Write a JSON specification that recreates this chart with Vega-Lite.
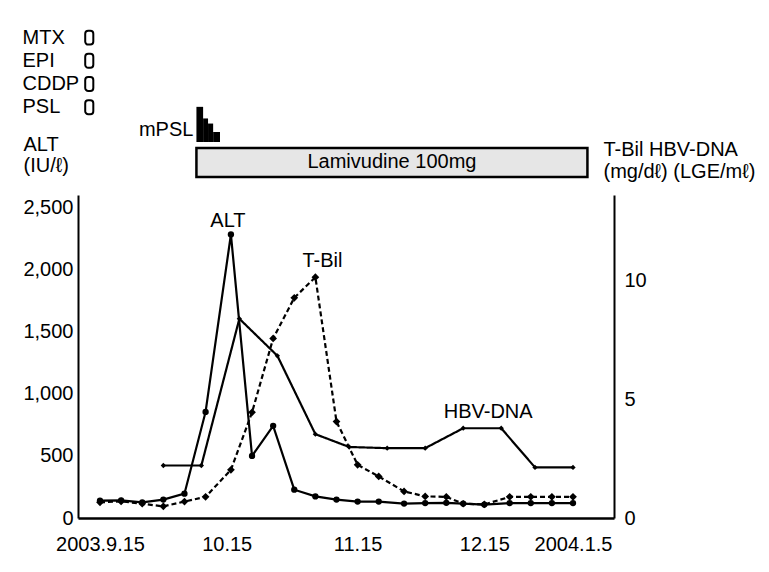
{
  "$schema": "https://vega.github.io/schema/vega-lite/v6.json",
  "background": "white",
  "padding": {"left": 22, "top": 26, "right": 5, "bottom": 5},
  "datasets": {
    "alt": [
      {"date": "2003-09-15T00:00", "alt": 140},
      {"date": "2003-09-20T00:00", "alt": 142},
      {"date": "2003-09-25T00:00", "alt": 126},
      {"date": "2003-09-30T00:00", "alt": 148},
      {"date": "2003-10-05T00:00", "alt": 196},
      {"date": "2003-10-10T00:00", "alt": 854},
      {"date": "2003-10-16T00:00", "alt": 2282, "label": "ALT"},
      {"date": "2003-10-21T00:00", "alt": 500},
      {"date": "2003-10-26T00:00", "alt": 742},
      {"date": "2003-10-31T00:00", "alt": 228},
      {"date": "2003-11-05T00:00", "alt": 174},
      {"date": "2003-11-10T00:00", "alt": 148},
      {"date": "2003-11-15T00:00", "alt": 132},
      {"date": "2003-11-20T00:00", "alt": 132},
      {"date": "2003-11-26T00:00", "alt": 116},
      {"date": "2003-12-01T00:00", "alt": 120},
      {"date": "2003-12-06T00:00", "alt": 122},
      {"date": "2003-12-10T00:00", "alt": 116},
      {"date": "2003-12-15T00:00", "alt": 108},
      {"date": "2003-12-21T00:00", "alt": 120},
      {"date": "2003-12-26T00:00", "alt": 120},
      {"date": "2003-12-31T00:00", "alt": 120},
      {"date": "2004-01-05T00:00", "alt": 120}
    ],
    "right": [
      {"date": "2003-09-15T00:00", "series": "T-Bil", "value": 0.66},
      {"date": "2003-09-20T00:00", "series": "T-Bil", "value": 0.7},
      {"date": "2003-09-25T00:00", "series": "T-Bil", "value": 0.6},
      {"date": "2003-09-30T00:00", "series": "T-Bil", "value": 0.49},
      {"date": "2003-10-05T00:00", "series": "T-Bil", "value": 0.69},
      {"date": "2003-10-10T00:00", "series": "T-Bil", "value": 0.89},
      {"date": "2003-10-16T00:00", "series": "T-Bil", "value": 2.03},
      {"date": "2003-10-21T00:00", "series": "T-Bil", "value": 4.45},
      {"date": "2003-10-26T00:00", "series": "T-Bil", "value": 7.56},
      {"date": "2003-10-31T00:00", "series": "T-Bil", "value": 9.27},
      {"date": "2003-11-05T00:00", "series": "T-Bil", "value": 10.14, "label": "T-Bil"},
      {"date": "2003-11-10T00:00", "series": "T-Bil", "value": 4.06},
      {"date": "2003-11-15T00:00", "series": "T-Bil", "value": 2.24},
      {"date": "2003-11-20T00:00", "series": "T-Bil", "value": 1.75},
      {"date": "2003-11-26T00:00", "series": "T-Bil", "value": 1.12},
      {"date": "2003-12-01T00:00", "series": "T-Bil", "value": 0.91},
      {"date": "2003-12-06T00:00", "series": "T-Bil", "value": 0.89},
      {"date": "2003-12-10T00:00", "series": "T-Bil", "value": 0.6},
      {"date": "2003-12-15T00:00", "series": "T-Bil", "value": 0.57},
      {"date": "2003-12-21T00:00", "series": "T-Bil", "value": 0.89},
      {"date": "2003-12-26T00:00", "series": "T-Bil", "value": 0.89},
      {"date": "2003-12-31T00:00", "series": "T-Bil", "value": 0.89},
      {"date": "2004-01-05T00:00", "series": "T-Bil", "value": 0.89},
      {"date": "2003-09-30T00:00", "series": "HBV-DNA", "value": 2.21},
      {"date": "2003-10-09T00:00", "series": "HBV-DNA", "value": 2.21},
      {"date": "2003-10-18T00:00", "series": "HBV-DNA", "value": 8.39},
      {"date": "2003-10-27T00:00", "series": "HBV-DNA", "value": 6.83},
      {"date": "2003-11-05T00:00", "series": "HBV-DNA", "value": 3.53},
      {"date": "2003-11-13T00:00", "series": "HBV-DNA", "value": 2.99},
      {"date": "2003-11-22T00:00", "series": "HBV-DNA", "value": 2.94},
      {"date": "2003-12-01T00:00", "series": "HBV-DNA", "value": 2.94},
      {"date": "2003-12-10T00:00", "series": "HBV-DNA", "value": 3.78, "label": "HBV-DNA"},
      {"date": "2003-12-19T00:00", "series": "HBV-DNA", "value": 3.78},
      {"date": "2003-12-27T00:00", "series": "HBV-DNA", "value": 2.13},
      {"date": "2004-01-05T00:00", "series": "HBV-DNA", "value": 2.13}
    ],
    "chemo": [
      {"drug": "MTX", "start": "2003-09-11T12:00", "end": "2003-09-13T10:00"},
      {"drug": "EPI", "start": "2003-09-11T12:00", "end": "2003-09-13T10:00"},
      {"drug": "CDDP", "start": "2003-09-11T12:00", "end": "2003-09-13T10:00"},
      {"drug": "PSL", "start": "2003-09-11T12:00", "end": "2003-09-13T10:00"}
    ],
    "mpsl": [
      {"drug": "mPSL", "start": "2003-10-07T20:00", "end": "2003-10-09T10:00", "dose": 1000, "label": "mPSL"},
      {"drug": "mPSL", "start": "2003-10-09T10:00", "end": "2003-10-10T14:00", "dose": 670},
      {"drug": "mPSL", "start": "2003-10-10T14:00", "end": "2003-10-11T19:00", "dose": 525},
      {"drug": "mPSL", "start": "2003-10-11T19:00", "end": "2003-10-13T10:00", "dose": 285}
    ],
    "lam": [
      {"drug": "Lamivudine 100mg", "start": "2003-10-07T20:00", "end": "2004-01-08T10:00", "label_date": "2003-11-23T03:00"}
    ]
  },
  "vconcat": [
    {
      "width": 536,
      "height": 116,
      "layer": [
        {
          "layer": [
            {
              "data": {"name": "chemo"},
              "mark": {"type": "rect", "fill": "white", "stroke": "black", "strokeWidth": 2, "cornerRadius": 3},
              "encoding": {
                "x": {"field": "start", "type": "temporal", "axis": null,
                  "scale": {"domain": [{"year": 2003, "month": 9, "date": 9, "hours": 19}, {"year": 2004, "month": 1, "date": 14, "hours": 17}], "nice": false}},
                "x2": {"field": "end"},
                "y": {"field": "drug", "type": "nominal",
                  "scale": {"type": "band", "domain": ["MTX", "EPI", "CDDP", "PSL", "mPSL"], "paddingInner": 0.4, "paddingOuter": 0.2},
                  "axis": {"values": ["MTX", "EPI", "CDDP", "PSL"], "labelAlign": "left", "labelPadding": 56, "domain": false, "ticks": false, "title": null}}
              }
            },
            {
              "data": {"name": "mpsl"},
              "transform": [{"filter": "isValid(datum.label)"}],
              "mark": {"type": "text", "align": "right", "dx": -3, "baseline": "middle"},
              "encoding": {
                "x": {"field": "start", "type": "temporal", "axis": null},
                "y": {"field": "drug", "type": "nominal",
                  "axis": {"values": ["MTX", "EPI", "CDDP", "PSL"], "labelAlign": "left", "labelPadding": 56, "domain": false, "ticks": false, "title": null}},
                "text": {"field": "label"}
              }
            }
          ]
        },
        {
          "data": {"name": "mpsl"},
          "mark": {"type": "rect", "color": "black"},
          "encoding": {
            "x": {"field": "start", "type": "temporal", "axis": null},
            "x2": {"field": "end"},
            "y": {"field": "dose", "type": "quantitative", "scale": {"domain": [0, 3300], "nice": false}, "axis": null},
            "y2": {"datum": 0}
          }
        }
      ],
      "resolve": {"scale": {"y": "independent"}}
    },
    {
      "width": 536,
      "height": 41,
      "data": {"name": "lam"},
      "encoding": {
        "y": {"field": "drug", "type": "nominal", "axis": null,
          "scale": {"type": "band", "paddingInner": 0, "paddingOuter": 0.207, "align": 0}}
      },
      "layer": [
        {
          "mark": {"type": "rect", "fill": "#e6e6e6", "stroke": "black", "strokeWidth": 2.5},
          "encoding": {
            "x": {"field": "start", "type": "temporal", "axis": null,
              "scale": {"domain": [{"year": 2003, "month": 9, "date": 9, "hours": 19}, {"year": 2004, "month": 1, "date": 14, "hours": 17}], "nice": false}},
            "x2": {"field": "end"}
          }
        },
        {
          "mark": {"type": "text", "baseline": "middle", "align": "center"},
          "encoding": {
            "x": {"field": "label_date", "type": "temporal", "axis": null},
            "text": {"field": "drug"}
          }
        }
      ]
    },
    {
      "width": 536,
      "height": 323,
      "layer": [
        {
          "data": {"name": "alt"},
          "encoding": {
            "x": {"field": "date", "type": "temporal",
              "scale": {"domain": [{"year": 2003, "month": 9, "date": 9, "hours": 19}, {"year": 2004, "month": 1, "date": 14, "hours": 17}], "nice": false},
              "axis": {
                "values": [{"year": 2003, "month": 9, "date": 15}, {"year": 2003, "month": 10, "date": 15}, {"year": 2003, "month": 11, "date": 15}, {"year": 2003, "month": 12, "date": 15}, {"year": 2004, "month": 1, "date": 5}],
                "labelExpr": "(month(datum.value) == 8 || month(datum.value) == 0) ? timeFormat(datum.value, '%Y.%-m.%-d') : timeFormat(datum.value, '%-m.%-d')",
                "labelPadding": 16, "labelFlush": false, "domainWidth": 2.5, "title": null
              }
            },
            "y": {"field": "alt", "type": "quantitative",
              "scale": {"domain": [0, 2600], "nice": false},
              "axis": {
                "values": [0, 500, 1000, 1500, 2000, 2500], "format": ",.0f", "labelPadding": 5,
                "title": ["ALT", "(IU/ℓ)"], "titleAngle": 0, "titleAlign": "left", "titleBaseline": "alphabetic",
                "titleX": -55, "titleY": -45, "titleLineHeight": 21
              }
            }
          },
          "layer": [
            {"mark": {"type": "line", "color": "black", "strokeWidth": 2.2}},
            {"mark": {"type": "point", "filled": true, "color": "black", "size": 40, "opacity": 1}},
            {
              "transform": [{"filter": "isValid(datum.label)"}],
              "mark": {"type": "text", "dx": -3, "dy": -8, "baseline": "alphabetic", "align": "center"},
              "encoding": {"text": {"field": "label"}}
            }
          ]
        },
        {
          "data": {"name": "right"},
          "encoding": {
            "x": {"field": "date", "type": "temporal"},
            "y": {"field": "value", "type": "quantitative",
              "scale": {"domain": [0, 13.6], "nice": false},
              "axis": {
                "orient": "right", "values": [0, 5, 10], "labelPadding": 10,
                "title": ["T-Bil HBV-DNA", "(mg/dℓ) (LGE/mℓ)"], "titleAngle": 0, "titleAlign": "left", "titleBaseline": "alphabetic",
                "titleX": -11, "titleY": -40, "titleLineHeight": 22
              }
            }
          },
          "layer": [
            {
              "mark": {"type": "line", "color": "black", "strokeWidth": 2.2},
              "encoding": {
                "strokeDash": {"field": "series", "type": "nominal",
                  "scale": {"domain": ["T-Bil", "HBV-DNA"], "range": [[5, 3], [1, 0]]}, "legend": null}
              }
            },
            {
              "transform": [{"filter": "datum.series == 'T-Bil'"}],
              "mark": {"type": "point", "shape": "diamond", "filled": true, "color": "black", "size": 60, "opacity": 1}
            },
            {
              "transform": [{"filter": "datum.series == 'HBV-DNA'"}],
              "mark": {"type": "point", "shape": "diamond", "filled": true, "color": "black", "size": 28, "opacity": 1}
            },
            {
              "transform": [{"filter": "datum.series == 'T-Bil' && isValid(datum.label)"}],
              "mark": {"type": "text", "dx": 7, "dy": -10, "baseline": "alphabetic", "align": "center"},
              "encoding": {"text": {"field": "label"}}
            },
            {
              "transform": [{"filter": "datum.series == 'HBV-DNA' && isValid(datum.label)"}],
              "mark": {"type": "text", "dx": 25, "dy": -10, "baseline": "alphabetic", "align": "center"},
              "encoding": {"text": {"field": "label"}}
            }
          ]
        }
      ],
      "resolve": {"scale": {"y": "independent"}}
    }
  ],
  "spacing": 6,
  "bounds": "flush",
  "config": {
    "view": {"stroke": null},
    "font": "Liberation Sans",
    "axis": {
      "domainColor": "black", "domainWidth": 2, "labelColor": "black", "labelFont": "Liberation Sans", "labelFontSize": 20,
      "titleFont": "Liberation Sans", "titleFontSize": 20, "titleFontWeight": "normal", "titleColor": "black",
      "grid": false, "ticks": false, "tickSize": 0, "labelOverlap": false
    },
    "text": {"font": "Liberation Sans", "fontSize": 20, "color": "black"}
  }
}
